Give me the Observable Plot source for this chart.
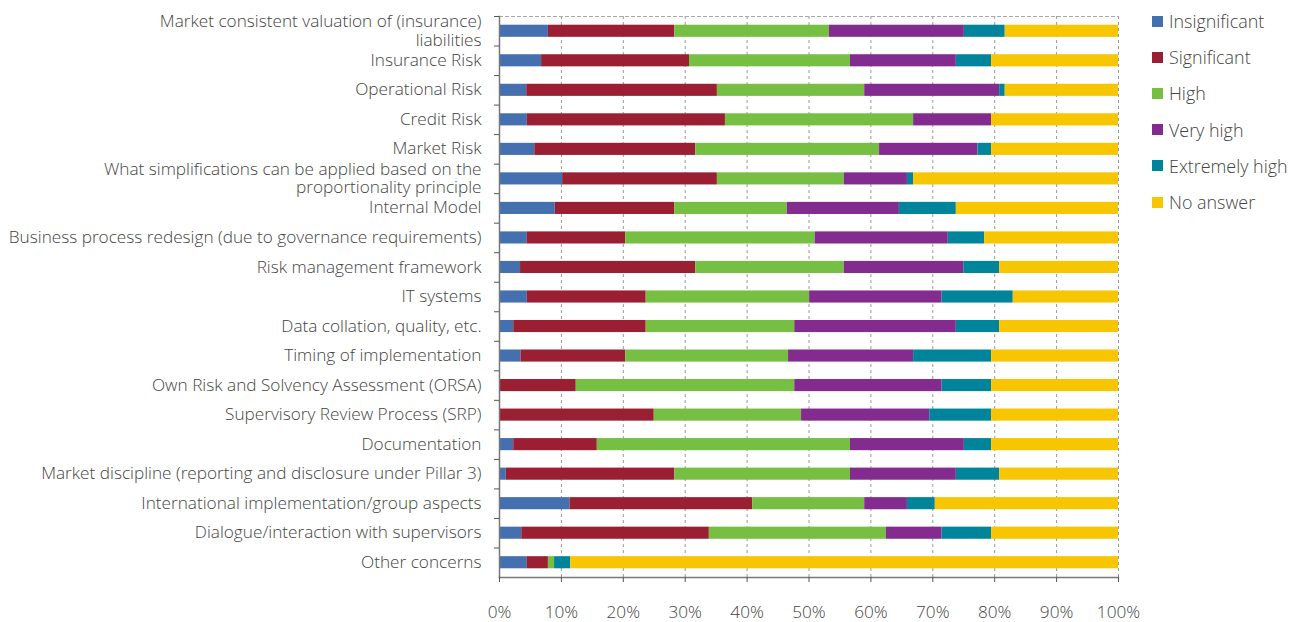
<!DOCTYPE html>
<html>
<head>
<meta charset="utf-8">
<script src="https://cdn.jsdelivr.net/npm/d3@7"></script>
<script src="https://cdn.jsdelivr.net/npm/@observablehq/plot@0.6"></script>
<style>
  html, body { margin: 0; padding: 0; background: #fff; }
  #wrap { position: relative; width: 1295px; height: 622px; font-family: "Open Sans", sans-serif; font-weight: 300; }
  #legend { position: absolute; left: 1152px; top: 10px; }
  .li { display: flex; align-items: center; height: 36.2px; font-size: 17.9px; color: #444; margin-top: -7px; margin-bottom: 7px;}
  .sw { width: 11px; height: 11px; margin-right: 6px; flex: none; }
</style>
</head>
<body>
<div id="wrap"><div id="chart"></div><div id="legend"></div></div>
<script>
const categories = [
  "Market consistent valuation of (insurance)\nliabilities",
  "Insurance Risk",
  "Operational Risk",
  "Credit Risk",
  "Market Risk",
  "What simplifications can be applied based on the\nproportionality principle",
  "Internal Model",
  "Business process redesign (due to governance requirements)",
  "Risk management framework",
  "IT systems",
  "Data collation, quality, etc.",
  "Timing of implementation",
  "Own Risk and Solvency Assessment (ORSA)",
  "Supervisory Review Process (SRP)",
  "Documentation",
  "Market discipline (reporting and disclosure under Pillar 3)",
  "International implementation/group aspects",
  "Dialogue/interaction with supervisors",
  "Other concerns"
];
const seriesNames = ["Insignificant", "Significant", "High", "Very high", "Extremely high", "No answer"];
const colors = ["#4470b0", "#9b1f32", "#76bf43", "#832b8f", "#00849b", "#f7c600"];

const insignificant = [7.9, 6.8, 4.4, 4.5, 5.7, 10.2, 9.0, 4.5, 3.4, 4.5, 2.3, 3.5, 0, 0, 2.3, 1.1, 11.4, 3.6, 4.5];
const significant   = [20.4, 23.9, 30.8, 32.0, 26.0, 25.0, 19.3, 15.9, 28.3, 19.2, 21.4, 16.9, 12.4, 25.0, 13.5, 27.2, 29.5, 30.3, 3.4];
const high          = [25.0, 26.0, 23.8, 30.4, 29.7, 20.5, 18.2, 30.6, 24.0, 26.4, 24.0, 26.3, 35.3, 23.8, 40.9, 28.4, 18.1, 28.6, 1.0];
const veryHigh      = [21.8, 17.1, 21.8, 12.6, 15.9, 10.2, 18.1, 21.5, 19.3, 21.4, 26.1, 20.2, 23.8, 20.7, 18.4, 17.1, 6.9, 9.0, 0];
const extremelyHigh = [6.6, 5.7, 0.9, 0, 2.2, 1.0, 9.2, 5.9, 5.8, 11.5, 7.0, 12.6, 8.0, 10.0, 4.4, 7.0, 4.5, 8.0, 2.6];
const noAnswer      = [18.3, 20.5, 18.3, 20.5, 20.5, 33.1, 26.2, 21.6, 19.2, 17.0, 19.2, 20.5, 20.5, 20.5, 20.5, 19.2, 29.6, 20.5, 88.5];

const xTicks = [0, 10, 20, 30, 40, 50, 60, 70, 80, 90, 100];

const seriesValues = [insignificant, significant, high, veryHigh, extremelyHigh, noAnswer];
const data = [];
categories.forEach((c, i) => {
  seriesNames.forEach((s, j) => {
    data.push({category: c, series: s, value: seriesValues[j][i]});
  });
});

const mTop = 16, mBottom = 45;
const bandStep = (622 - mTop - mBottom) / categories.length;

const chart = Plot.plot({
  width: 1140,
  height: 622,
  marginLeft: 499,
  marginRight: 22,
  marginTop: mTop,
  marginBottom: mBottom,
  style: {fontFamily: "'Open Sans', sans-serif", fontWeight: 300, fontSize: "17.2px", color: "#444", background: "#fff"},
  x: {domain: [0, 100], ticks: xTicks, tickFormat: d => d + "%", label: null},
  y: {domain: categories, paddingInner: 0.59, paddingOuter: 0.295, round: false, label: null},
  color: {domain: seriesNames, range: colors},
  marks: [
    Plot.gridX(xTicks, {stroke: "#999", strokeOpacity: 1, strokeDasharray: "3,3"}),
    Plot.frame({anchor: "top", stroke: "#aaa", strokeDasharray: "3,3"}),
    Plot.barX(data, Plot.stackX({y: "category", x: "value", fill: "series", order: seriesNames})),
    Plot.frame({anchor: "left", stroke: "#777", strokeWidth: 1.5}),
    Plot.frame({anchor: "bottom", stroke: "#777", strokeWidth: 1.5}),
    Plot.axisX(xTicks, {tickSize: 5, tickPadding: 23, stroke: "#555", fill: "#444", fontSize: 17.2, tickFormat: d => d + "%", label: null}),
    Plot.axisY({tickSize: 5, text: null, dy: -bandStep / 2, stroke: "#555"}),
    Plot.axisY({tickSize: 0, tickPadding: 18, dy: -1, fill: "#444", fontSize: 17.2, lineHeight: 1.1, label: null})
  ]
});
document.getElementById("chart").appendChild(chart);

const legend = document.getElementById("legend");
seriesNames.forEach((s, i) => {
  const row = document.createElement("div");
  row.className = "li";
  const sw = document.createElement("span");
  sw.className = "sw";
  sw.style.background = colors[i];
  const t = document.createElement("span");
  t.textContent = s;
  row.appendChild(sw);
  row.appendChild(t);
  legend.appendChild(row);
});
</script>
</body>
</html>
